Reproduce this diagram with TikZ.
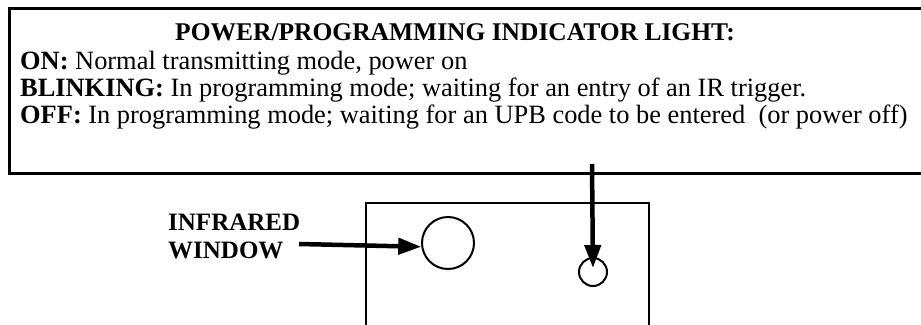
\documentclass[tikz,border=0pt]{standalone}
\usepackage{fontspec}
\setmainfont{Liberation Serif}
\usetikzlibrary{arrows.meta}
\begin{document}
\begin{tikzpicture}[x=1pt,y=-1pt,
  txt/.style={inner sep=0pt, anchor=base west, font=\fontsize{26.4}{28}\selectfont},
  ttl/.style={inner sep=0pt, anchor=base, font=\fontsize{25.5}{28}\selectfont\bfseries},
  lbl/.style={inner sep=0pt, anchor=base west, font=\fontsize{25}{29}\selectfont\bfseries},
  ring/.style={draw, circle, line width=2pt, inner sep=0pt},
  bigarrow/.style={line width=4.5pt, -{Triangle[length=23pt,width=16pt]}}]
\useasboundingbox (0,0) rectangle (921,324);
% top box (open on the right)
\draw[line width=2.6pt] (940,8.5) -- (9.5,8.5) -- (9.5,173.5) -- (940,173.5);
% device
\draw[line width=2pt] (366,340) -- (366,203) -- (649,203) -- (649,340);
\node[ttl] (title) at (455,40) {POWER/PROGRAMMING INDICATOR LIGHT:};
\node[txt] (on) at (20,69.5) {\textbf{ON:} Normal transmitting mode, power on};
\node[txt] (blink) at (20,96.5) {\textbf{BLINKING:} In programming mode; waiting for an entry of an IR trigger.};
\node[txt] (off) at (20,123.5) {\textbf{OFF:} In programming mode; waiting for an UPB code to be entered\ \ (or power off)};
\node[lbl] (lbl1) at (168,230) {INFRARED};
\node[lbl] (lbl2) at (168,258) {WINDOW};
\node[ring, minimum size=52pt] (irwin) at (448,243) {};
\node[ring, minimum size=28pt] (led) at (593,272) {};
\coordinate (tailA) at (299,244);
\coordinate (tailB) at (592,164);
\draw[bigarrow] (tailA) -- (irwin.188);
\draw[bigarrow, shorten >=4pt] (tailB) -- (led.center);
\end{tikzpicture}
\end{document}
